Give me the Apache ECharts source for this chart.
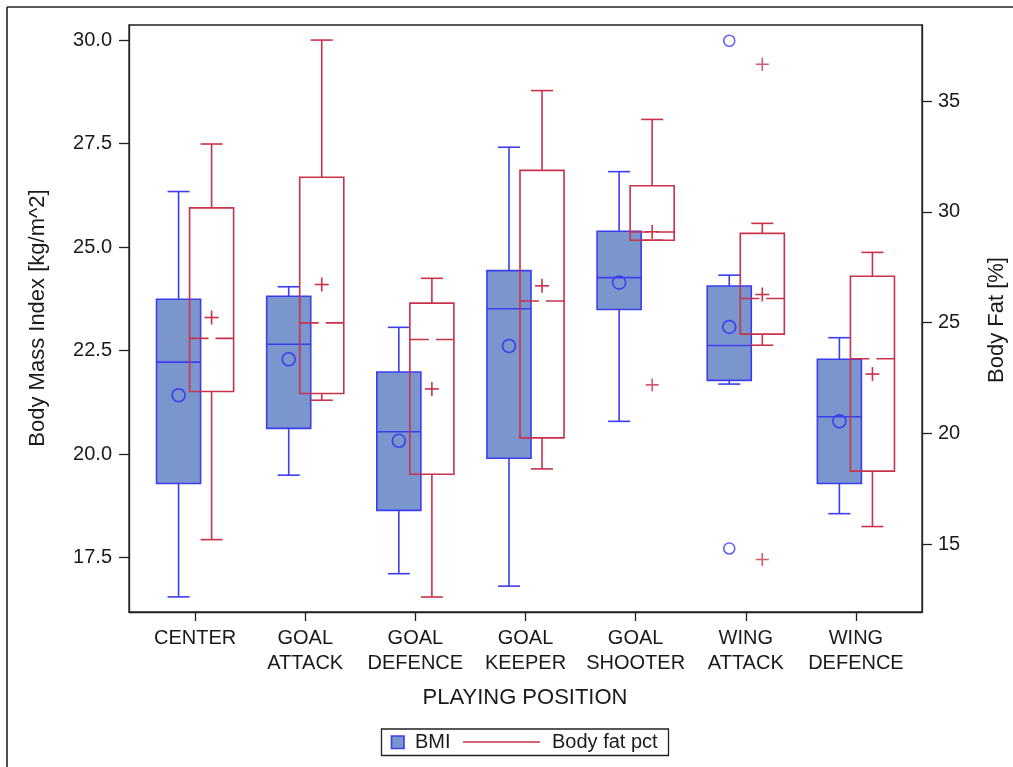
<!DOCTYPE html>
<html>
<head>
<meta charset="utf-8">
<title>BMI and body fat by playing position</title>
<script src="https://cdn.jsdelivr.net/npm/echarts@6/dist/echarts.min.js"></script>
<style>
    html, body { margin: 0; padding: 0; background: #fff; }
    #chart_box { width: 1013px; height: 767px; }
</style>
</head>
<body>
<div id="chart_box"></div>
<script>
// categories (x axis)
var positions = ['CENTER', 'GOAL\nATTACK', 'GOAL\nDEFENCE', 'GOAL\nKEEPER', 'GOAL\nSHOOTER', 'WING\nATTACK', 'WING\nDEFENCE'];

// BMI (left axis) - whiskers, quartiles, median, mean
var bmiLow  = [16.55, 19.49, 17.11, 16.81, 20.79, 21.69, 18.56];
var bmiQ1   = [19.29, 20.62, 18.64, 19.90, 23.49, 21.78, 19.29];
var bmiMed  = [22.22, 22.65, 20.54, 23.51, 24.26, 22.62, 20.90];
var bmiQ3   = [23.74, 23.81, 21.98, 24.43, 25.38, 24.06, 22.29];
var bmiHigh = [26.34, 24.04, 23.06, 27.41, 26.82, 24.32, 22.81];
var bmiMean = [21.42, 22.29, 20.32, 22.61, 24.14, 23.07, 20.79];
var bmiOutliers = [[5, 29.98], [5, 17.72]];

// Body fat % (right axis)
var fatLow  = [15.21, 21.50, 12.62, 18.40, 28.72, 23.98, 15.80];
var fatQ1   = [21.89, 21.80, 18.16, 19.80, 28.72, 24.48, 18.30];
var fatMed  = [24.29, 24.99, 24.24, 25.98, 29.09, 26.09, 23.37];
var fatQ3   = [30.18, 31.56, 25.88, 31.87, 31.18, 29.03, 27.09];
var fatHigh = [33.06, 37.75, 27.00, 35.47, 34.17, 29.48, 28.17];
var fatMean = [25.23, 26.72, 22.01, 26.66, 29.10, 26.27, 22.68];
var fatOutliers = [[4, 22.19], [5, 36.66], [5, 14.31]];

// tick labels
var bmiTicks = [17.5, 20, 22.5, 25, 27.5, 30];
var fatTicks = [15, 20, 25, 30, 35];
var posTicks = [0, 1, 2, 3, 4, 5, 6];

var bmiLine = '#3c3cf0', bmiFill = '#7b96cc';
var fatLine = '#c8324b';
var font = '"Liberation Sans", Arial, sans-serif';
var ink = '#1a1a1a';

function rows(lo, q1, md, q3, hi, mn) {
    var out = [];
    for (var i = 0; i < lo.length; i++) {
        out.push([i, lo[i], q1[i], md[i], q3[i], hi[i], mn[i]]);
    }
    return out;
}

function boxRender(offset, filled) {
    return function (params, api) {
        var x = api.value(0) + offset;
        var lo = api.coord([x, api.value(1)]);
        var q1 = api.coord([x, api.value(2)]);
        var md = api.coord([x, api.value(3)]);
        var q3 = api.coord([x, api.value(4)]);
        var hi = api.coord([x, api.value(5)]);
        var mn = api.coord([x, api.value(6)]);
        var half = api.size([0.2, 0])[0];
        var cap = half / 2;
        var cx = lo[0];
        var color = filled ? bmiLine : fatLine;
        var ls = {stroke: color, lineWidth: 1.6};
        var kids = [
            {type: 'line', shape: {x1: cx, y1: lo[1], x2: cx, y2: q1[1]}, style: ls},
            {type: 'line', shape: {x1: cx, y1: q3[1], x2: cx, y2: hi[1]}, style: ls},
            {type: 'line', shape: {x1: cx - cap, y1: lo[1], x2: cx + cap, y2: lo[1]}, style: ls},
            {type: 'line', shape: {x1: cx - cap, y1: hi[1], x2: cx + cap, y2: hi[1]}, style: ls},
            {type: 'rect', shape: {x: cx - half, y: q3[1], width: half * 2, height: q1[1] - q3[1]},
                style: {fill: filled ? bmiFill : 'none', stroke: color, lineWidth: 1.6}},
            {type: 'line', shape: {x1: cx - half, y1: md[1], x2: cx + half, y2: md[1]},
                style: {stroke: color, lineWidth: 1.6, lineDash: filled ? null : [19, 7]}}
        ];
        if (filled) {
            kids.push({type: 'circle', shape: {cx: cx, cy: mn[1], r: 6.5}, style: {fill: 'none', stroke: color, lineWidth: 1.6}});
        } else {
            kids.push({type: 'line', shape: {x1: cx - 7, y1: mn[1], x2: cx + 7, y2: mn[1]}, style: ls});
            kids.push({type: 'line', shape: {x1: cx, y1: mn[1] - 7, x2: cx, y2: mn[1] + 7}, style: ls});
        }
        return {type: 'group', children: kids};
    };
}

function shift(list, dx) {
    return list.map(function (p) { return [p[0] + dx, p[1]]; });
}

var myChart = echarts.init(document.getElementById('chart_box'));
var option = {
    animation: false,
    backgroundColor: '#fff',
    textStyle: {fontFamily: font},
    grid: {left: 129, top: 25, right: 91, bottom: 155, show: true, borderColor: '#222', borderWidth: 1.3},
    xAxis: {
        type: 'value', min: -0.6, max: 6.6,
        splitLine: {show: false},
        axisLine: {onZero: false, lineStyle: {color: '#222', width: 1.3}},
        axisTick: {customValues: posTicks, length: 9, lineStyle: {color: '#222', width: 1.3}},
        axisLabel: {
            customValues: posTicks, margin: 14, color: ink, fontSize: 20, lineHeight: 25, fontFamily: font,
            formatter: function (v) { return positions[Math.round(v)]; }
        }
    },
    yAxis: [
        {
            type: 'value', min: 16.185, max: 30.362, position: 'left',
            splitLine: {show: false},
            axisLine: {show: true, onZero: false, lineStyle: {color: '#222', width: 1.3}},
            axisTick: {show: true, customValues: bmiTicks, length: 10, lineStyle: {color: '#222', width: 1.3}},
            axisLabel: {customValues: bmiTicks, margin: 17, color: ink, fontSize: 20, fontFamily: font,
                formatter: function (v) { return v.toFixed(1); }}
        },
        {
            type: 'value', min: 11.944, max: 38.43, position: 'right',
            splitLine: {show: false},
            axisLine: {show: true, onZero: false, lineStyle: {color: '#222', width: 1.3}},
            axisTick: {show: true, customValues: fatTicks, length: 10, lineStyle: {color: '#222', width: 1.3}},
            axisLabel: {customValues: fatTicks, margin: 16, color: ink, fontSize: 20, fontFamily: font,
                formatter: function (v) { return String(Math.round(v)); }}
        }
    ],
    series: [
        {
            name: 'BMI', type: 'custom', yAxisIndex: 0,
            renderItem: boxRender(-0.15, true),
            encode: {x: 0, y: [1, 2, 3, 4, 5]},
            data: rows(bmiLow, bmiQ1, bmiMed, bmiQ3, bmiHigh, bmiMean)
        },
        {
            name: 'Body fat pct', type: 'custom', yAxisIndex: 1,
            renderItem: boxRender(0.15, false),
            encode: {x: 0, y: [1, 2, 3, 4, 5]},
            data: rows(fatLow, fatQ1, fatMed, fatQ3, fatHigh, fatMean)
        },
        {
            name: 'BMI outliers', type: 'scatter', yAxisIndex: 0,
            symbol: 'circle', symbolSize: 11,
            itemStyle: {color: 'rgba(0,0,0,0)', borderColor: bmiLine, borderWidth: 1.6},
            data: shift(bmiOutliers, -0.15)
        },
        {
            name: 'Body fat outliers', type: 'scatter', yAxisIndex: 1,
            symbol: 'path://M0,5.7H13V7.3H0ZM5.7,0H7.3V13H5.7Z', symbolSize: 13,
            itemStyle: {color: fatLine},
            data: shift(fatOutliers, 0.15)
        }
    ],
    graphic: [
        // outer frame (only top and left edges are inside the picture)
        {type: 'line', shape: {x1: 7, y1: 7, x2: 1013, y2: 7}, style: {stroke: '#222', lineWidth: 1.6}},
        {type: 'line', shape: {x1: 7, y1: 7, x2: 7, y2: 767}, style: {stroke: '#222', lineWidth: 1.6}},
        // axis titles
        {type: 'text', x: 38, y: 318, rotation: Math.PI / 2,
            style: {text: 'Body Mass Index [kg/m^2]', fill: ink, font: '22px ' + font, textAlign: 'center', textVerticalAlign: 'middle'}},
        {type: 'text', x: 997, y: 320, rotation: Math.PI / 2,
            style: {text: 'Body Fat [%]', fill: ink, font: '22px ' + font, textAlign: 'center', textVerticalAlign: 'middle'}},
        {type: 'text', x: 525, y: 698,
            style: {text: 'PLAYING POSITION', fill: ink, font: '22px ' + font, textAlign: 'center', textVerticalAlign: 'middle'}},
        // legend
        {type: 'rect', shape: {x: 381.5, y: 729, width: 287, height: 26.5}, style: {fill: '#fff', stroke: '#222', lineWidth: 1.3}},
        {type: 'rect', shape: {x: 391.5, y: 736, width: 12.5, height: 12.5}, style: {fill: bmiFill, stroke: bmiLine, lineWidth: 1.6}},
        {type: 'text', x: 415, y: 742.5, style: {text: 'BMI', fill: ink, font: '20px ' + font, textVerticalAlign: 'middle'}},
        {type: 'line', shape: {x1: 463, y1: 742, x2: 540, y2: 742}, style: {stroke: fatLine, lineWidth: 1.6}},
        {type: 'text', x: 552, y: 742.5, style: {text: 'Body fat pct', fill: ink, font: '20px ' + font, textVerticalAlign: 'middle'}}
    ]
};
myChart.setOption(option);
window.addEventListener('resize', function () { myChart.resize(); });
</script>
</body>
</html>
